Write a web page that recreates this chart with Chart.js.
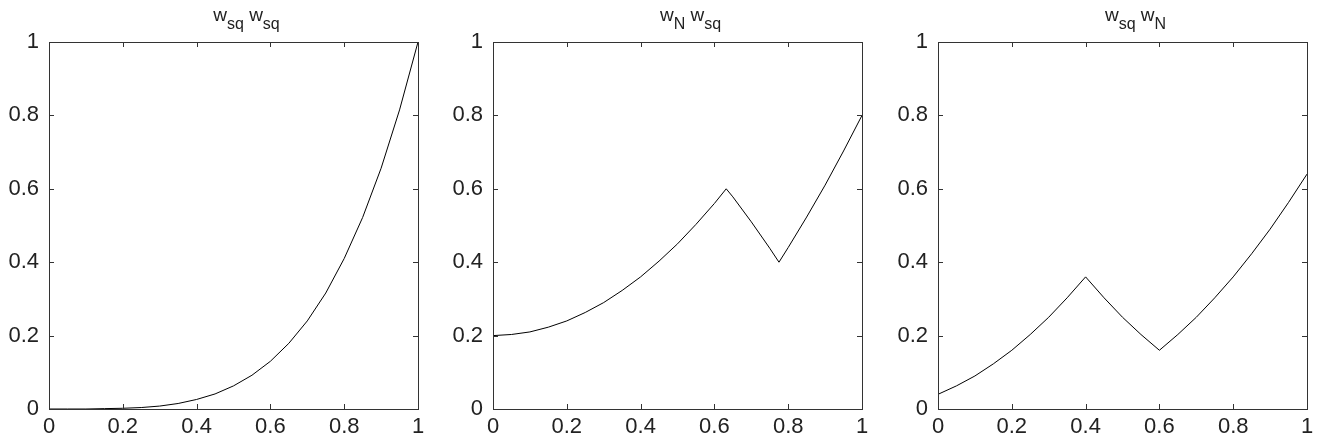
<!DOCTYPE html>
<html lang="en">
<head>
  <meta charset="UTF-8">
  <title>w_sq / w_N products</title>
  <script src="https://cdn.jsdelivr.net/npm/chart.js"></script>
  <style>
    body { margin: 0; background: #fff; }
    #wrap { position: relative; width: 1320px; height: 441px; overflow: hidden; }
    .panel { position: absolute; top: 0; width: 440px; height: 441px; }
    .panel canvas { position: absolute; left: 0; top: 0; }
    .ttl {
      position: absolute; top: 4px; left: 62px; width: 369px; text-align: center;
      font: 19px "Liberation Sans", Arial, sans-serif; color: #222; line-height: 22px;
      white-space: nowrap;
    }
    .ttl sub { font-size: 16px; vertical-align: -8px; line-height: 0; }
  </style>
</head>
<body>
<div id="wrap"></div>

<script>
  // tick labels shared by every panel
  const xTicks = [0, 0.2, 0.4, 0.6, 0.8, 1];
  const yTicks = [0, 0.2, 0.4, 0.6, 0.8, 1];

  // panel 1: w_sq w_sq
  const x1 = [0, 0.05, 0.1, 0.15, 0.2, 0.25, 0.3, 0.35, 0.4, 0.45, 0.5, 0.55, 0.6, 0.65, 0.7, 0.75, 0.8, 0.85, 0.9, 0.95, 1];
  const y1 = [0, 0, 0, 0.001, 0.002, 0.004, 0.008, 0.015, 0.026, 0.041, 0.063, 0.092, 0.130, 0.179, 0.240, 0.316, 0.410, 0.522, 0.656, 0.815, 1];

  // panel 2: w_N w_sq
  const x2 = [0, 0.05, 0.1, 0.15, 0.2, 0.25, 0.3, 0.35, 0.4, 0.45, 0.5, 0.55, 0.6, 0.632, 0.65, 0.7, 0.75, 0.775, 0.8, 0.85, 0.9, 0.95, 1];
  const y2 = [0.2, 0.203, 0.21, 0.223, 0.24, 0.263, 0.29, 0.323, 0.36, 0.403, 0.45, 0.503, 0.56, 0.6, 0.578, 0.51, 0.438, 0.4, 0.44, 0.523, 0.61, 0.703, 0.8];

  // panel 3: w_sq w_N
  const x3 = [0, 0.05, 0.1, 0.15, 0.2, 0.25, 0.3, 0.35, 0.4, 0.45, 0.5, 0.55, 0.6, 0.65, 0.7, 0.75, 0.8, 0.85, 0.9, 0.95, 1];
  const y3 = [0.04, 0.063, 0.09, 0.123, 0.16, 0.203, 0.25, 0.303, 0.36, 0.303, 0.25, 0.203, 0.16, 0.203, 0.25, 0.303, 0.36, 0.423, 0.49, 0.563, 0.64];

  const panels = [
    { left: 0,   title: 'w<sub>sq</sub> w<sub>sq</sub>', xs: x1, ys: y1 },
    { left: 444, title: 'w<sub>N</sub> w<sub>sq</sub>',  xs: x2, ys: y2 },
    { left: 889, title: 'w<sub>sq</sub> w<sub>N</sub>',  xs: x3, ys: y3 }
  ];

  const axisColor = '#333';
  const fontSpec = { family: '"Liberation Sans", Arial, sans-serif', size: 22 };

  // box around the plot plus inward ticks on all four sides
  const boxPlugin = {
    id: 'box',
    afterDraw(chart) {
      const { ctx, chartArea: a, scales } = chart;
      const len = 5;
      ctx.save();
      ctx.strokeStyle = axisColor;
      ctx.lineWidth = 1;
      ctx.beginPath();
      xTicks.forEach(v => {
        const px = Math.round(scales.x.getPixelForValue(v)) + 0.5;
        ctx.moveTo(px, a.bottom); ctx.lineTo(px, a.bottom - len);
        ctx.moveTo(px, a.top); ctx.lineTo(px, a.top + len);
      });
      yTicks.forEach(v => {
        const py = Math.round(scales.y.getPixelForValue(v)) + 0.5;
        ctx.moveTo(a.left, py); ctx.lineTo(a.left + len, py);
        ctx.moveTo(a.right, py); ctx.lineTo(a.right - len, py);
      });
      ctx.stroke();
      ctx.strokeRect(Math.round(a.left) + 0.5, Math.round(a.top) + 0.5,
        Math.round(a.right - a.left), Math.round(a.bottom - a.top));
      ctx.restore();
    }
  };

  const wrap = document.getElementById('wrap');

  panels.forEach(p => {
    const div = document.createElement('div');
    div.className = 'panel';
    div.style.left = p.left + 'px';
    const cv = document.createElement('canvas');
    cv.width = 440; cv.height = 441;
    const t = document.createElement('div');
    t.className = 'ttl';
    t.innerHTML = p.title;
    div.appendChild(cv);
    div.appendChild(t);
    wrap.appendChild(div);

    new Chart(cv.getContext('2d'), {
      type: 'line',
      data: {
        datasets: [{
          data: p.xs.map((x, i) => ({ x: x, y: p.ys[i] })),
          borderColor: '#000',
          borderWidth: 1,
          pointRadius: 0,
          tension: 0,
          fill: false
        }]
      },
      options: {
        responsive: false,
        animation: false,
        layout: { padding: { top: 42, right: 22, left: 0, bottom: 0 } },
        plugins: { legend: { display: false }, tooltip: { enabled: false } },
        scales: {
          x: {
            type: 'linear', min: 0, max: 1,
            grid: { display: false, tickLength: 0 },
            border: { display: false },
            afterBuildTicks: s => { s.ticks = xTicks.map(v => ({ value: v })); },
            afterFit: s => { s.height = 32; },
            ticks: { autoSkip: false, maxRotation: 0, padding: 5, color: '#222', font: fontSpec,
              callback: v => String(v) }
          },
          y: {
            min: 0, max: 1,
            grid: { display: false, tickLength: 0 },
            border: { display: false },
            afterBuildTicks: s => { s.ticks = yTicks.map(v => ({ value: v })); },
            afterFit: s => { s.width = 49; },
            ticks: { padding: 10, color: '#222', font: fontSpec,
              callback: v => String(v) }
          }
        }
      },
      plugins: [boxPlugin]
    });
  });
</script>
</body>
</html>
